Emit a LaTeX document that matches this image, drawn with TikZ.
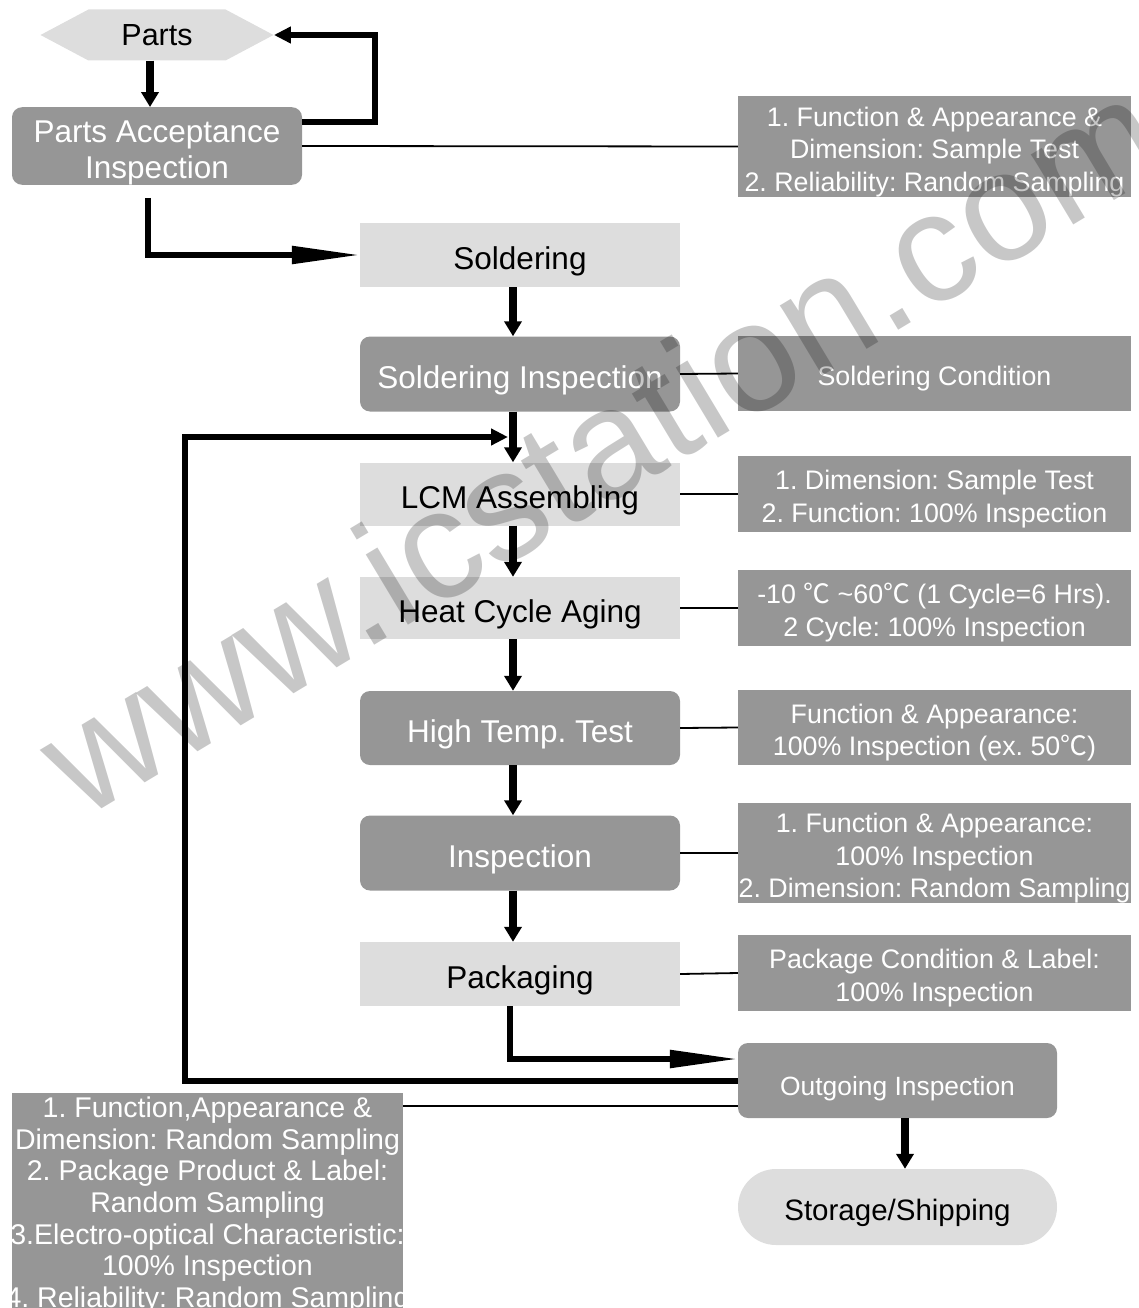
\documentclass[tikz,border=0pt]{standalone}
\usepackage{fontspec}
\setmainfont{Liberation Sans}
\newfontfamily\cjk{Noto Sans CJK SC}
\usetikzlibrary{arrows.meta,positioning,shapes.symbols}

\definecolor{boxdark}{RGB}{150,150,150}
\definecolor{boxlight}{RGB}{221,221,221}
\newcommand{\degC}{{\cjk ℃}}
\newcommand{\wline}[1]{\makebox[391pt]{#1}}
\newcommand{\up}[1]{\rule{0pt}{#1}}
\frenchspacing

\begin{document}
\begin{tikzpicture}[x=1pt,y=-1pt,
  textlift/.style={execute at begin node={\rule{0pt}{#1}}},
  lbox/.style={fill=boxlight, minimum width=320pt, inner sep=0pt, text=black, font=\fontsize{31.5}{37}\selectfont, textlift=35pt},
  dbox/.style={fill=boxdark, rounded corners=10pt, minimum width=320pt, inner sep=0pt, text=white, align=center, font=\fontsize{31.5}{36}\selectfont, textlift=35pt},
  spec/.style={fill=boxdark, minimum width=393pt, inner sep=0pt, text=white, align=center, font=\fontsize{26.8}{32.5}\selectfont, textlift=30pt},
  flow/.style={line width=8pt, -{Triangle[width=17pt,length=15pt]}},
  back/.style={line width=6pt, -{Triangle[width=16pt,length=17pt]}},
  long/.style={line width=5.5pt, -{Triangle[width=17pt,length=68pt]}},
  note/.style={line width=1.8pt}]
  \useasboundingbox (0,0) rectangle (1139,1308);

  % Incoming parts
  \node[signal, signal to=west and east, signal pointer angle=56, fill=boxlight, minimum width=233pt, minimum height=51pt, inner sep=0pt, font=\fontsize{30.5}{36}\selectfont] (parts) at (157,35) {Parts};
  \node[dbox, minimum width=290pt, minimum height=76pt] (pai) at (157,146) {\up{35pt}Parts Acceptance\\Inspection};

  % Main process column
  \node[lbox, minimum height=64pt] (sold) at (520,255) {Soldering};
  \node[dbox, minimum height=75pt] (soldi) at (520,374) {Soldering Inspection};
  \node[lbox, minimum height=63pt] (lcm) at (520,494) {LCM Assembling};
  \node[lbox, minimum height=62pt] (heat) at (520,608) {Heat Cycle Aging};
  \node[dbox, minimum height=74pt] (high) at (520,728) {High Temp. Test};
  \node[dbox, minimum height=75pt] (insp) at (520,853) {Inspection};
  \node[lbox, minimum height=64pt] (pack) at (520,974) {Packaging};
  \node[dbox, minimum width=319pt, minimum height=75pt, font=\fontsize{26.4}{32}\selectfont] (out) at (897.5,1080.5) {Outgoing Inspection};
  \node[fill=boxlight, rounded corners=38pt, minimum width=319pt, minimum height=76pt, inner sep=0pt, font=\fontsize{29.5}{35}\selectfont, textlift=34pt] (stor) at (897.5,1207) {Storage/Shipping};

  % Inspection items
  \node[spec, minimum height=101pt] (s1) at (934.5,146.5) {\up{30pt}1. Function \& Appearance \&\\Dimension: Sample Test\\2. Reliability: Random Sampling};
  \node[spec, minimum height=75pt] (s2) at (934.5,373.5) {Soldering Condition};
  \node[spec, minimum height=76pt] (s3) at (934.5,494) {\up{30pt}1. Dimension: Sample Test\\2. Function: 100\% Inspection};
  \node[spec, minimum height=76pt] (s4) at (934.5,608) {\up{30pt}-10 \degC{} \textasciitilde60\degC{} (1 Cycle=6 Hrs).\\2 Cycle: 100\% Inspection};
  \node[spec, minimum height=75pt] (s5) at (934.5,727.5) {\up{30pt}Function \& Appearance:\\100\% Inspection (ex. 50\degC)};
  \node[spec, minimum height=100pt] (s6) at (934.5,853) {\up{30pt}1. Function \& Appearance:\\100\% Inspection\\2. Dimension: Random Sampling};
  \node[spec, minimum height=76pt] (s7) at (934.5,973) {\up{30pt}Package Condition \& Label:\\100\% Inspection};
  \node[fill=boxdark, text=white, align=center, inner sep=0pt, minimum width=391pt, minimum height=224pt, anchor=north, font=\fontsize{28.5}{31.7}\selectfont] (s8) at (207.5,1093) {\wline{1. Function,Appearance \&}\\\wline{Dimension: Random Sampling}\\\wline{2. Package Product \& Label:}\\\wline{Random Sampling}\\\wline{3.Electro-optical Characteristic:}\\\wline{100\% Inspection}\\\wline{4. Reliability: Random Sampling}};

  % Flow arrows
  \draw[flow] ([xshift=-7pt]parts.south) -- ([xshift=-7pt]pai.north);
  \draw[back] ([yshift=24pt]pai.east) -- ++(73,0) |- (parts.east);
  \draw[long] ([xshift=-9pt,yshift=-13pt]pai.south) |- (sold.west);
  \draw[flow] ([xshift=-7pt]sold.south) -- ([xshift=-7pt]soldi.north);
  \draw[flow] ([xshift=-7pt]soldi.south) -- ([xshift=-7pt]lcm.north);
  \draw[flow] ([xshift=-7pt]lcm.south) -- ([xshift=-7pt]heat.north);
  \draw[flow] ([xshift=-7pt]heat.south) -- ([xshift=-7pt]high.north);
  \draw[flow] ([xshift=-7pt]high.south) -- ([xshift=-7pt]insp.north);
  \draw[flow] ([xshift=-7pt]insp.south) -- ([xshift=-7pt]pack.north);
  \draw[long] ([xshift=-10pt]pack.south) |- ([yshift=21.5pt]out.west);
  \draw[flow] ([xshift=7.5pt]out.south) -- ([xshift=7.5pt]stor.north);

  % Rework loop back to assembling
  \coordinate (fbend) at (508,437);
  \draw[back] (out.west) -- ++(-553,0) |- (fbend);

  % Links to inspection items
  \draw[note] (pai.east) -- (s1.west);
  \draw[note] (soldi.east) -- (s2.west);
  \draw[note] (lcm.east) -- (s3.west);
  \draw[note] (heat.east) -- (s4.west);
  \draw[note] (high.east) -- (s5.west);
  \draw[note] (insp.east) -- (s6.west);
  \draw[note] (pack.east) -- (s7.west);
  \draw[note] ([yshift=-13pt]s8.north east) -- ([yshift=-25.5pt]out.west);

  % Watermark
  \node[rotate=31, text=black, opacity=0.22, inner sep=0pt, font=\fontsize{155}{155}\selectfont] (wm) at (600,445) {www.icstation.com};
\end{tikzpicture}
\end{document}
